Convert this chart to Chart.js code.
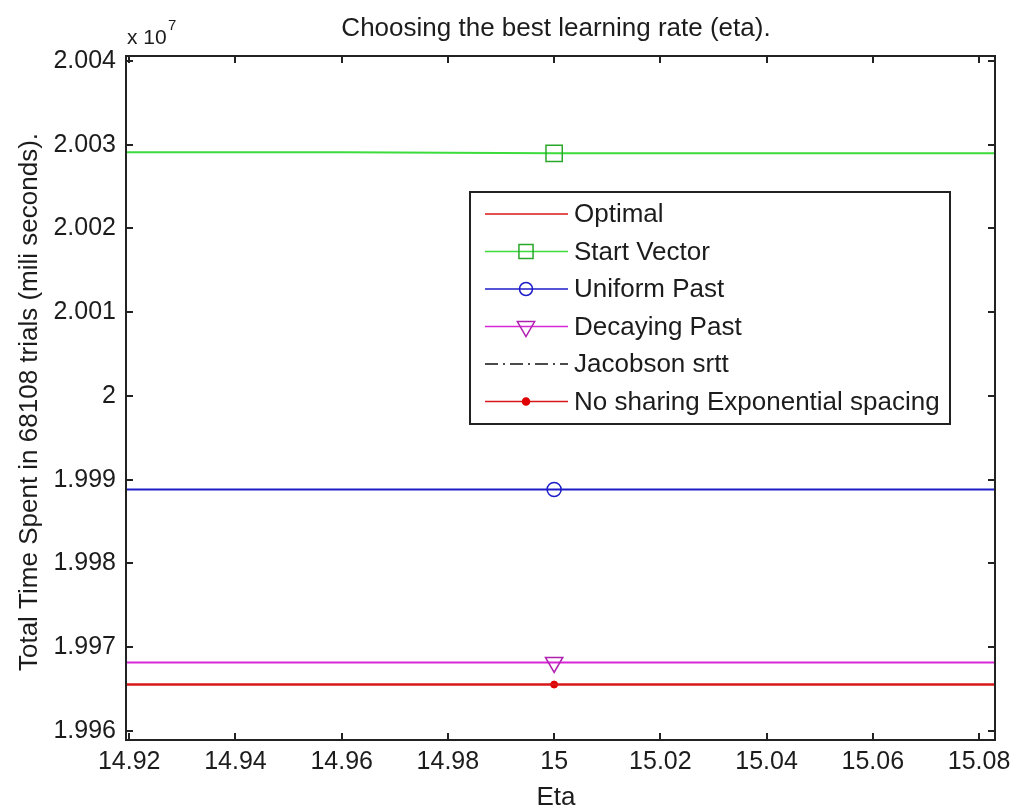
<!DOCTYPE html>
<html>
<head>
<meta charset="utf-8">
<title>Choosing the best learning rate (eta)</title>
<script src="https://cdn.jsdelivr.net/npm/chart.js@4.4.1/dist/chart.umd.min.js"></script>
<style>
  html, body { margin: 0; padding: 0; background: #fff; }
  #wrap { width: 1013px; height: 807px; }
</style>
</head>
<body>
<div id="wrap"><canvas id="etaChart" width="1013" height="807"></canvas></div>
<script>
// eta values where the curves were sampled (marker shown only at eta = 15)
const etaValues = [14.9194, 14.96, 15, 15.083];

// total time spent in 68108 trials (ms)
const optimal = [19965550, 19965550, 19965550, 19965550];
const startVector = [20029100, 20029100, 20028980, 20028980];
const uniformPast = [19988840, 19988840, 19988840, 19988840];
const decayingPast = [19968180, 19968180, 19968180, 19968180];
const jacobsonSrtt = []; // not visible in the plotted range
const noSharingExp = [19965550, 19965550, 19965550, 19965550];

// tick positions
const xTicks = [14.92, 14.94, 14.96, 14.98, 15, 15.02, 15.04, 15.06, 15.08];
const yTicks = [19960000, 19970000, 19980000, 19990000, 20000000,
  20010000, 20020000, 20030000, 20040000];

const FONT = '"Liberation Sans", Arial, sans-serif';
const TEXT_COLOR = '#1c1c1c';

function toPoints(values) {
  return values.map((v, i) => ({ x: etaValues[i], y: v }));
}

// marker only on the eta = 15 sample
function markerAt15(r) {
  return etaValues.map((e) => (e === 15 ? r : 0));
}

// MATLAB style inward ticks on all four sides + box frame
const frameTicks = {
  id: 'frameTicks',
  afterDraw: function (chart) {
    const ctx = chart.ctx;
    const a = chart.chartArea;
    const xs = chart.scales.x;
    const ys = chart.scales.y;
    const len = 7;
    ctx.save();
    ctx.strokeStyle = '#222';
    ctx.lineWidth = 2;
    xs.ticks.forEach((t) => {
      const px = Math.round(xs.getPixelForValue(t.value));
      ctx.beginPath();
      ctx.moveTo(px, a.bottom);
      ctx.lineTo(px, a.bottom - len);
      ctx.moveTo(px, a.top);
      ctx.lineTo(px, a.top + len);
      ctx.stroke();
    });
    ys.ticks.forEach((t) => {
      const py = Math.round(ys.getPixelForValue(t.value));
      ctx.beginPath();
      ctx.moveTo(a.left, py);
      ctx.lineTo(a.left + len, py);
      ctx.moveTo(a.right, py);
      ctx.lineTo(a.right - len, py);
      ctx.stroke();
    });
    ctx.strokeRect(a.left, a.top, a.right - a.left, a.bottom - a.top);
    ctx.restore();
  },
};

// texts: title, axis titles, exponent
const labelsPlugin = {
  id: 'labelsPlugin',
  afterDraw: function (chart) {
    const ctx = chart.ctx;
    const a = chart.chartArea;
    ctx.save();
    ctx.fillStyle = TEXT_COLOR;
    ctx.textAlign = 'center';
    ctx.textBaseline = 'alphabetic';
    ctx.font = '26px ' + FONT;
    ctx.fillText('Choosing the best learning rate (eta).', 556, 36);
    ctx.fillText('Eta', 556, 805);

    ctx.save();
    ctx.translate(30, (a.top + a.bottom) / 2 + 4);
    ctx.rotate(-Math.PI / 2);
    ctx.textBaseline = 'middle';
    ctx.fillText('Total Time Spent in 68108 trials (mili seconds).', 0, 0);
    ctx.restore();

    ctx.textAlign = 'left';
    ctx.font = '21px ' + FONT;
    ctx.fillText('x 10', 127, 44);
    ctx.font = '15px ' + FONT;
    ctx.fillText('7', 168, 30);
    ctx.restore();
  },
};

// boxed legend, line sample with marker in the middle
const boxLegend = {
  id: 'boxLegend',
  afterDraw: function (chart) {
    const ctx = chart.ctx;
    const box = { left: 470, top: 192, right: 950, bottom: 424 };
    const rowH = 37.5;
    const firstRow = 214;
    ctx.save();
    ctx.fillStyle = '#fff';
    ctx.fillRect(box.left, box.top, box.right - box.left, box.bottom - box.top);
    ctx.strokeStyle = '#222';
    ctx.lineWidth = 2;
    ctx.strokeRect(box.left, box.top, box.right - box.left, box.bottom - box.top);

    chart.data.datasets.forEach((ds, i) => {
      const y = firstRow + i * rowH;
      ctx.save();
      ctx.strokeStyle = ds.borderColor;
      ctx.lineWidth = 1.5;
      ctx.setLineDash(ds.borderDash || []);
      ctx.beginPath();
      ctx.moveTo(485, y);
      ctx.lineTo(568, y);
      ctx.stroke();
      ctx.setLineDash([]);
      if (ds.legendMarker) {
        ctx.strokeStyle = ds.pointBorderColor;
        ctx.fillStyle = ds.pointBackgroundColor;
        Chart.helpers.drawPoint(ctx, {
          pointStyle: ds.pointStyle,
          radius: ds.legendMarker,
          rotation: ds.pointRotation || 0,
          borderWidth: ds.pointBorderWidth,
        }, 526, y);
      }
      ctx.restore();

      ctx.fillStyle = TEXT_COLOR;
      ctx.font = '26px ' + FONT;
      ctx.textAlign = 'left';
      ctx.textBaseline = 'middle';
      ctx.fillText(ds.label, 574, y + 1);
    });
    ctx.restore();
  },
};

document.addEventListener('DOMContentLoaded', function () {
  const ctx = document.getElementById('etaChart').getContext('2d');

  new Chart(ctx, {
    type: 'line',
    data: {
      datasets: [
        {
          label: 'Optimal',
          data: toPoints(optimal),
          borderColor: '#d81818',
          borderWidth: 2,
          pointRadius: 0,
        },
        {
          label: 'Start Vector',
          data: toPoints(startVector),
          borderColor: '#3cdc3c',
          borderWidth: 2,
          pointStyle: 'rect',
          pointRadius: markerAt15(11.5),
          pointBorderColor: '#2aa82a',
          pointBackgroundColor: 'rgba(0,0,0,0)',
          pointBorderWidth: 1.5,
          legendMarker: 10,
        },
        {
          label: 'Uniform Past',
          data: toPoints(uniformPast),
          borderColor: '#1c1cc8',
          borderWidth: 2,
          pointStyle: 'circle',
          pointRadius: markerAt15(7),
          pointBorderColor: '#1c1cc8',
          pointBackgroundColor: 'rgba(0,0,0,0)',
          pointBorderWidth: 1.5,
          legendMarker: 6.5,
        },
        {
          label: 'Decaying Past',
          data: toPoints(decayingPast),
          borderColor: '#d828d8',
          borderWidth: 2,
          pointStyle: 'triangle',
          pointRotation: 180,
          pointRadius: markerAt15(10),
          pointBorderColor: '#b020b0',
          pointBackgroundColor: 'rgba(0,0,0,0)',
          pointBorderWidth: 1.5,
          legendMarker: 10,
        },
        {
          label: 'Jacobson srtt',
          data: toPoints(jacobsonSrtt),
          borderColor: '#111',
          borderWidth: 1.5,
          borderDash: [13, 5, 2, 5],
          pointRadius: 0,
        },
        {
          label: 'No sharing Exponential spacing',
          data: toPoints(noSharingExp),
          borderColor: '#d81818',
          borderWidth: 2,
          pointStyle: 'circle',
          pointRadius: markerAt15(3.5),
          pointBorderColor: '#e00000',
          pointBackgroundColor: '#e00000',
          pointBorderWidth: 1,
          legendMarker: 3.5,
        },
      ],
    },
    options: {
      responsive: false,
      animation: false,
      layout: {
        padding: { left: 0, top: 56, right: 18, bottom: 0 },
      },
      plugins: {
        legend: { display: false },
        title: { display: false },
        tooltip: { enabled: false },
      },
      scales: {
        x: {
          type: 'linear',
          bounds: 'data',
          min: 14.9194,
          max: 15.083,
          afterBuildTicks: function (scale) {
            scale.ticks = xTicks.map((v) => ({ value: v }));
          },
          afterFit: function (scale) {
            scale.height = 67;
            scale.paddingLeft = 0;
            scale.paddingRight = 0;
          },
          grid: { display: false, drawTicks: false },
          border: { display: false },
          ticks: {
            autoSkip: false,
            maxRotation: 0,
            padding: 7,
            color: TEXT_COLOR,
            font: { family: FONT, size: 25 },
            callback: function (v) {
              return String(Number(v.toFixed(2)));
            },
          },
        },
        y: {
          type: 'linear',
          bounds: 'data',
          min: 19958925,
          max: 20040597,
          afterBuildTicks: function (scale) {
            scale.ticks = yTicks.map((v) => ({ value: v }));
          },
          afterFit: function (scale) {
            scale.width = 126;
            scale.paddingTop = 0;
            scale.paddingBottom = 0;
          },
          grid: { display: false, drawTicks: false },
          border: { display: false },
          ticks: {
            autoSkip: false,
            padding: 10,
            color: TEXT_COLOR,
            font: { family: FONT, size: 25 },
            callback: function (v) {
              return String(Number((v / 1e7).toFixed(3)));
            },
          },
        },
      },
    },
    plugins: [frameTicks, labelsPlugin, boxLegend],
  });
});
</script>
</body>
</html>
